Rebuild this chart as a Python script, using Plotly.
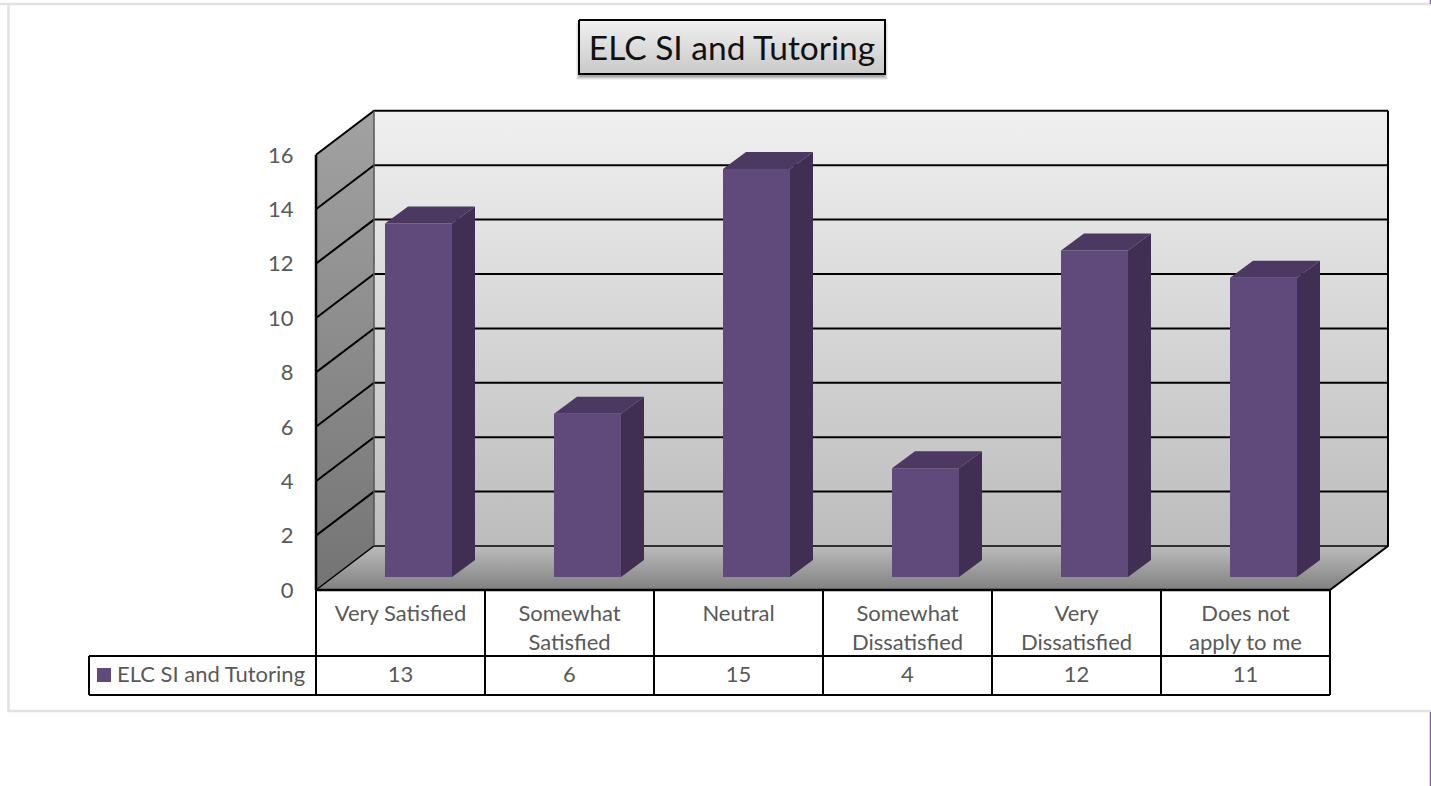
import plotly.graph_objects as go

categories = ["Very Satisfied", "Somewhat<br>Satisfied", "Neutral", "Somewhat<br>Dissatisfied", "Very<br>Dissatisfied", "Does not<br>apply to me"]
values = [13, 6, 15, 4, 12, 11]
series_name = "ELC SI and Tutoring"
y_ticks = [0, 2, 4, 6, 8, 10, 12, 14, 16]

W, H = 1431, 786
CAT, UNIT = 169.0, 27.2
X0, Y0 = 316.0, 590.0
FONT = "Lato"
GREY = "#595959"
LABEL = 22

def px(p):
    return -0.5 + (p - X0) / CAT
def py(p):
    return (Y0 - p) / UNIT

n = len(categories)
left, right = -0.5, n - 0.5
top = y_ticks[-1]
wdx, wdy = 58 / CAT, 44 / UNIT      # depth of the chart box
bdx, bdy = 23 / CAT, 17 / UNIT      # depth of a bar
base = 13 / UNIT
bw = 67 / CAT
shift = 18 / CAT

fig = go.Figure()

def poly(xs, ys, colors=None, color=None, axes=("x", "y")):
    kw = dict(x=xs, y=ys, mode="none", fill="toself", hoverinfo="skip", showlegend=False,
              xaxis=axes[0], yaxis=axes[1])
    if colors:
        kw["fillgradient"] = dict(type="vertical", colorscale=[[0, colors[0]], [1, colors[1]]])
    else:
        kw["fillcolor"] = color
    fig.add_trace(go.Scatter(**kw))

def lines(xs, ys, width=2, color="black", axes=("x", "y")):
    fig.add_trace(go.Scatter(x=xs, y=ys, mode="lines", line=dict(color=color, width=width),
                             hoverinfo="skip", showlegend=False, xaxis=axes[0], yaxis=axes[1]))

def text(xs, ys, labels, size=LABEL, color=GREY, pos="middle center"):
    fig.add_trace(go.Scatter(x=xs, y=ys, mode="text", text=labels, textposition=pos,
                             textfont=dict(family=FONT, size=size, color=color),
                             hoverinfo="skip", showlegend=False))

# chart frame
lines([px(0), px(1431)], [py(4), py(4)], 2.5, "#e2e2e2")
lines([px(8.5), px(8.5), px(1431)], [py(4), py(711), py(711)], 2.5, "#e2e2e2")
lines([px(1430.5), px(1430.5)], [py(712), py(786)], 1.5, "#7f5fb0")
lines([px(1430.5), px(1430.5)], [py(0), py(4)], 1.5, "#7f5fb0")

# walls and floor
poly([left, left + wdx, left + wdx, left], [0, wdy, top + wdy, top], colors=("#747474", "#a2a2a2"))
poly([left + wdx, right + wdx, right + wdx, left + wdx], [wdy, wdy, top + wdy, top + wdy],
     colors=("#bcbcbc", "#f0f0f0"))
poly([left, right, right + wdx, left + wdx], [0, 0, wdy, wdy], colors=("#808080", "#bcbcbc"))

# grid lines
gx, gy = [], []
for k in y_ticks[1:]:
    gx += [left, left + wdx, right + wdx, None]
    gy += [k, k + wdy, k + wdy, None]
lines(gx, gy, 2)
lines([left, left + wdx, right + wdx], [0, wdy, wdy], 1.5)
lines([left + wdx, left + wdx], [wdy, top + wdy], 1.5, "#555555")
lines([right + wdx, right + wdx, right], [top + wdy, wdy, 0], 2)
lines([left, left], [0, top], 2.5)

# data table
lines([px(89), right], [py(656), py(656)], 2)
lines([px(89), right], [py(695), py(695)], 2)
lines([left, right], [0, 0], 2.5)
lines([px(89), px(89)], [py(656), py(695)], 2)
for i in range(n + 1):
    lines([left + i, left + i], [0, py(695)], 2)

line1 = [c.split("<br>")[0] for c in categories]
line2 = [c.split("<br>")[1] if "<br>" in c else "" for c in categories]
cat_x = list(range(n))
text(cat_x, [py(615)] * n, line1)
text(cat_x, [py(644)] * n, line2)
text(cat_x, [py(676)] * n, [str(v) for v in values])
text([px(117)], [py(676)], [series_name], pos="middle right")
fig.add_trace(go.Scatter(x=[px(104)], y=[py(675)], mode="markers",
                         marker=dict(symbol="square", size=14, color="#604a7b"),
                         hoverinfo="skip", showlegend=False))

# title box
for off, alpha in [(6, 0.06), (5, 0.08), (4, 0.1), (3, 0.14)]:
    poly([px(579 - off + 3), px(885 + off - 3), px(885 + off - 3), px(579 - off + 3)],
         [py(20 + 3), py(20 + 3), py(74 + off), py(74 + off)], color=f"rgba(0,0,0,{alpha})")
poly([px(579), px(885), px(885), px(579)], [py(20), py(20), py(74), py(74)], colors=("#c9c9c9", "#f0f0f0"))
lines([px(579), px(885), px(885), px(579), px(579)], [py(20), py(20), py(74), py(74), py(20)], 2)
text([px(732)], [py(52)], [series_name], size=33.5, color="#111111")

# bars on an overlay so they sit above the walls
ov = ("x2", "y2")
fig.add_trace(go.Bar(x=[i + shift for i in range(n)], y=values, base=base, width=bw,
                     marker=dict(color="#604a7b", line=dict(width=0)), name=series_name,
                     showlegend=False, xaxis="x2", yaxis="y2", hovertemplate="%{x}: %{y}<extra></extra>"))
tx, ty, sx, sy = [], [], [], []
for i, v in enumerate(values):
    l = i + shift - bw / 2
    r = i + shift + bw / 2
    t = v + base
    tx += [l, r, r + bdx, l + bdx, l, None]
    ty += [t, t, t + bdy, t + bdy, t, None]
    sx += [r, r + bdx, r + bdx, r, r, None]
    sy += [base, base + bdy, t + bdy, t, base, None]
poly(tx, ty, color="#4c3962", axes=ov)
poly(sx, sy, color="#402f53", axes=ov)

xr = [px(0), px(W)]
yr = [py(H), py(0)]
fig.update_layout(
    width=W, height=H, margin=dict(l=0, r=0, t=0, b=0), autosize=False,
    paper_bgcolor="white", plot_bgcolor="white", showlegend=False,
    xaxis=dict(range=xr, visible=False, fixedrange=True),
    yaxis=dict(range=yr, anchor="free", position=X0 / W, tickmode="array", tickvals=y_ticks,
               ticktext=[str(t) for t in y_ticks], ticks="outside", ticklen=18,
               tickcolor="rgba(0,0,0,0)", showgrid=False, zeroline=False, showline=False,
               tickfont=dict(family=FONT, size=LABEL, color=GREY), fixedrange=True),
    xaxis2=dict(range=xr, visible=False, overlaying="x", fixedrange=True),
    yaxis2=dict(range=yr, visible=False, overlaying="y", fixedrange=True),
)
fig.write_html("out.html", config={"displayModeBar": False},
               post_script="document.body.style.margin='0';document.body.style.overflow='hidden';")
